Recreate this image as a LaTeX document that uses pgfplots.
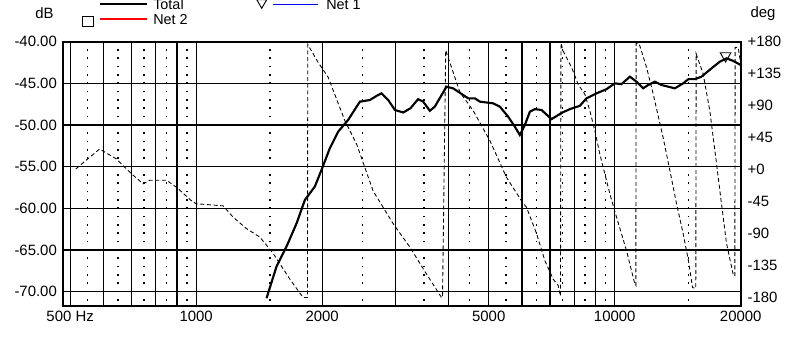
\documentclass[border=0pt]{standalone}
\usepackage{fontspec}
\setmainfont{Liberation Sans}
\usepackage{pgfplots}
\pgfplotsset{compat=1.18}
\usetikzlibrary{shapes.geometric}

\begin{document}
\begin{tikzpicture}
\useasboundingbox (0pt,0pt) rectangle (593.25pt,254.25pt);
\begin{axis}[
  at={(47.03pt,24.98pt)}, anchor=south west,
  scale only axis, width=508.5pt, height=198pt,
  xmode=log, xmin=480, xmax=20000,
  tick style={draw=none},
  ticklabel style={font=\fontsize{11.2}{12}\selectfont},
  ymin=-71.7, ymax=-40,
  xtick={500,600,700,800,900,1000,2000,3000,4000,5000,6000,7000,8000,9000,10000,20000},
  xticklabels={500 Hz,,,,,1000,2000,,,5000,,,,,10000,20000},
  minor xtick={550,650,750,850,950,1500,2500,3500,4500,5500,6500,7500,8500,9500,15000},
  ytick={-70,-65,-60,-55,-50,-45,-40},
  yticklabels={-70.00,-65.00,-60.00,-55.00,-50.00,-45.00,-40.00},
  xmajorgrids, ymajorgrids, xminorgrids,
  major grid style={black, line width=0.95pt},
  minor grid style={black, line width=1.1pt, dash pattern=on 1.4pt off 4.85pt, dash phase=2.6pt},
  axis line style={line width=1.3pt},
  xticklabel style={inner sep=0pt, anchor=north, yshift=-4pt},
  yticklabel style={inner sep=0pt, anchor=east, xshift=-4.2pt},
]
\addplot[black, line width=1.6pt] coordinates {
(1473,-70.8) (1556,-67.0) (1644,-64.6) (1738,-61.8) (1819,-59.0) (1921,-57.4)
(2000,-55.2) (2086,-52.8) (2184,-50.8) (2307,-49.4) (2461,-47.2) (2600,-47.0)
(2700,-46.5) (2773,-46.2) (2876,-47.0) (2984,-48.2) (3123,-48.5) (3250,-48.0)
(3391,-46.9) (3487,-47.2) (3617,-48.3) (3717,-47.8) (3964,-45.4) (4111,-45.6)
(4466,-46.8) (4634,-46.8) (4762,-47.2) (5123,-47.4) (5315,-47.8) (5563,-49.0)
(5772,-50.2) (5933,-51.2) (6100,-50.0) (6270,-48.4) (6443,-48.1) (6685,-48.2)
(7064,-49.3) (7500,-48.5) (7812,-48.1) (8254,-47.7) (8561,-46.8) (9049,-46.2)
(9559,-45.7) (10000,-45.0) (10380,-45.1) (10870,-44.2) (11270,-44.8) (11690,-45.6)
(12020,-45.2) (12470,-44.8) (12930,-45.2) (13920,-45.6) (14570,-45.0) (15000,-44.5)
(15540,-44.5) (16120,-44.2) (17030,-43.2) (17830,-42.4) (18500,-42.0) (19180,-42.3)
(20000,-42.8)
};
\addplot[only marks, mark=triangle, mark size=4.6pt, mark options={rotate=180, black, line width=0.7pt}] coordinates {(18400,-41.7)};
\end{axis}
\begin{axis}[
  at={(47.03pt,24.98pt)}, anchor=south west,
  scale only axis, width=508.5pt, height=198pt,
  xmode=log, xmin=480, xmax=20000,
  tick style={draw=none},
  ticklabel style={font=\fontsize{11.2}{12}\selectfont},
  ymin=-191.5, ymax=180,
  hide x axis,
  axis line style={draw=none},
  ytick={-180,-135,-90,-45,0,45,90,135,180},
  yticklabels={-180,-135,-90,-45,+0,+45,+90,+135,+180},
  ytick pos=right, yticklabel pos=right,
  yticklabel style={inner sep=0pt, anchor=west, xshift=5pt},
]
\addplot[black, line width=0.65pt, dash pattern=on 3pt off 2pt] coordinates {
(516,1) (588,29) (645,15) (701,-6) (747,-20) (775,-15) (850,-15) (898,-25)
(975,-44) (1000,-48) (1160,-51) (1226,-67) (1319,-83) (1420,-95) (1528,-118)
(1674,-154) (1801,-180) (1845,-180) (1848,176) (1956,151) (2067,130) (2266,69)
(2417,36) (2647,-30) (2955,-76) (3240,-109) (3551,-147) (3857,-180) (3878,-180)
(3947,168) (4266,109) (4590,83) (5030,41) (5514,-11) (5990,-44) (6155,-53)
(6505,-90) (6808,-128) (7126,-154) (7325,-163) (7420,-178) (7440,178) (7528,167)
(7886,144) (8178,120) (8484,106) (8719,83) (8962,55) (9213,22) (9470,-6)
(9734,-34) (10100,-67) (10670,-114) (11170,-161) (11230,-163) (11250,178)
(11440,177) (11910,144) (12350,107) (13050,45) (13540,-1) (14050,-48)
(14570,-90) (15000,-128) (15340,-166) (15620,-167) (15650,163) (16260,135)
(16870,83) (17510,8) (17990,-48) (18500,-104) (19180,-147) (19360,-150)
(19400,172) (19720,172) (20000,149)
};
\end{axis}
\node[font=\fontsize{11.2}{12}\selectfont] at (33.4pt,244.3pt) {dB};
\node[font=\fontsize{11.2}{12}\selectfont] at (572.3pt,244.3pt) {deg};
\draw[black, line width=0.9pt] (75pt,251.25pt) -- (110.25pt,251.25pt);
\node[anchor=base west, inner sep=0pt, font=\fontsize{10.8}{12}\selectfont] at (114.75pt,246.75pt) {Total};
\draw[red, line width=0.9pt] (75pt,240pt) -- (110.25pt,240pt);
\node[draw=black, line width=0.7pt, minimum width=8pt, minimum height=7.5pt, inner sep=0pt] at (66pt,238.5pt) {};
\node[anchor=base west, inner sep=0pt, font=\fontsize{10.8}{12}\selectfont] at (114.75pt,235.5pt) {Net 2};
\draw[blue, line width=1pt] (205pt,251pt) -- (238.75pt,251pt);
\node[draw=black, line width=0.7pt, regular polygon, regular polygon sides=3, shape border rotate=180, minimum size=8.7pt, inner sep=0pt] at (196.3pt,252.35pt) {};
\node[anchor=base west, inner sep=0pt, font=\fontsize{10.8}{12}\selectfont] at (244.5pt,246.75pt) {Net 1};
\end{tikzpicture}
\end{document}
